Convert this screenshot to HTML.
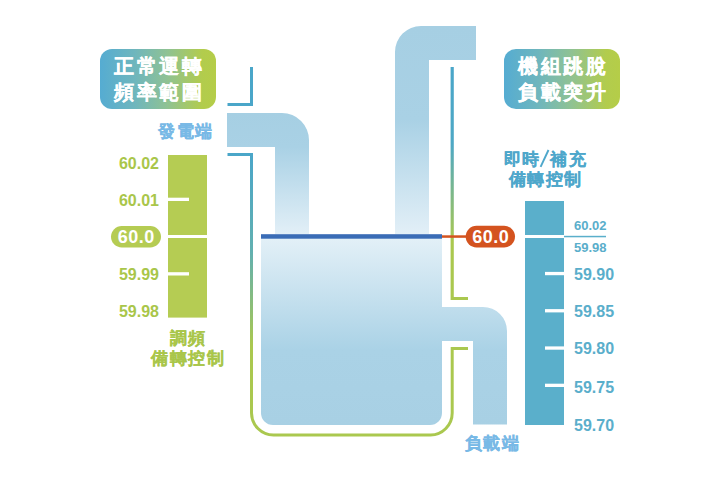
<!DOCTYPE html>
<html><head><meta charset="utf-8">
<style>
html,body{margin:0;padding:0;background:#fff;width:720px;height:480px;overflow:hidden;}
body{position:relative;font-family:"Liberation Sans",sans-serif;font-weight:bold;}
.a{position:absolute;white-space:nowrap;}
.box{position:absolute;width:116px;height:60px;border-radius:12px;background:linear-gradient(90deg,#55acd2 0%,#6fb6bd 30%,#8fc293 58%,#b2cc4d 88%,#b5cd48 100%);color:#fff;font-size:19.5px;line-height:25.5px;letter-spacing:2.5px;text-align:center;}
.box div{padding-top:5px;padding-left:2.5px;-webkit-text-stroke:0.25px #fff;}
.gl{color:#a9c64a;font-size:16px;line-height:16px;}
.bl{color:#5aaecb;font-size:16px;line-height:16px;}
.cj{font-size:16.5px;line-height:19.5px;letter-spacing:1.5px;text-align:center;-webkit-text-stroke:0.2px currentColor;}
.cc{padding-left:1.5px;}
</style></head><body>
<svg width="720" height="480" style="position:absolute;left:0;top:0">
<defs>
<linearGradient id="pipeL" x1="0" y1="113" x2="0" y2="234" gradientUnits="userSpaceOnUse">
<stop offset="0" stop-color="#a6cfe3"/><stop offset="0.28" stop-color="#a9d1e5"/><stop offset="1" stop-color="#e2eff7"/></linearGradient>
<linearGradient id="pipeR" x1="0" y1="26" x2="0" y2="234" gradientUnits="userSpaceOnUse">
<stop offset="0" stop-color="#a6cfe3"/><stop offset="0.45" stop-color="#a9d1e5"/><stop offset="1" stop-color="#e2eff7"/></linearGradient>
<linearGradient id="tank" x1="0" y1="238" x2="0" y2="425" gradientUnits="userSpaceOnUse">
<stop offset="0" stop-color="#e3f0f7"/><stop offset="0.6" stop-color="#aad2e6"/><stop offset="1" stop-color="#a8d0e4"/></linearGradient>
<linearGradient id="brL" x1="0" y1="153" x2="0" y2="436" gradientUnits="userSpaceOnUse">
<stop offset="0" stop-color="#4aa6c9"/><stop offset="0.35" stop-color="#62b0b0"/><stop offset="0.68" stop-color="#aac84f"/><stop offset="1" stop-color="#aac84f"/></linearGradient>
<linearGradient id="brR" x1="0" y1="67" x2="0" y2="300" gradientUnits="userSpaceOnUse">
<stop offset="0" stop-color="#4aa6c9"/><stop offset="0.33" stop-color="#4ea8c5"/><stop offset="0.75" stop-color="#aac84f"/><stop offset="1" stop-color="#aac84f"/></linearGradient>
</defs>
<!-- left pipe -->
<path d="M227 113 H282 A27 27 0 0 1 309 140 V234 H275 V147 H227 Z" fill="url(#pipeL)"/>
<!-- right pipe -->
<path d="M476 26 V60 H429 V234 H395 V52 A26 26 0 0 1 421 26 Z" fill="url(#pipeR)"/>
<!-- tank -->
<path d="M261 238 H442 V413 A12 12 0 0 1 430 425 H273 A12 12 0 0 1 261 413 Z" fill="url(#tank)"/>
<!-- outlet pipe -->
<path d="M441 307 H483 A24 24 0 0 1 507 331 V424.5 H473 V341 H441 Z" fill="url(#tank)"/>
<!-- blue water line -->
<rect x="261" y="234.2" width="181" height="4.5" fill="#3a6cb6"/>
<!-- left upper bracket -->
<path d="M227.5 104.5 H251.5 V67" fill="none" stroke="#4aa6c9" stroke-width="3"/>
<!-- left lower bracket -->
<path d="M227.5 154.5 H251.5 V413 A22 22 0 0 0 273.5 435 H430.5 A22 22 0 0 0 452.2 413 V348.5 H468" fill="none" stroke="url(#brL)" stroke-width="3"/>
<!-- right upper bracket -->
<path d="M452.2 67 V298.5 H468" fill="none" stroke="url(#brR)" stroke-width="3.2"/>
<!-- left gauge -->
<rect x="168" y="155" width="39" height="162.6" fill="#b5cc53"/>
<rect x="168" y="235" width="39" height="3" fill="#fff"/>
<rect x="168" y="197.7" width="21" height="3.3" fill="#fff"/>
<rect x="168" y="272.2" width="21" height="3.3" fill="#fff"/>
<rect x="111" y="226" width="50" height="21.5" rx="10.75" fill="#b5cc53"/>
<!-- right gauge -->
<rect x="525" y="201" width="39" height="224" fill="#5aafcb"/>
<rect x="525" y="235" width="39" height="3" fill="#fff"/>
<rect x="564" y="235.8" width="42" height="1.5" fill="#5aafcb"/>
<rect x="545" y="271.9" width="19" height="3.3" fill="#fff"/>
<rect x="545" y="309.1" width="19" height="3.3" fill="#fff"/>
<rect x="545" y="346.4" width="19" height="3.3" fill="#fff"/>
<rect x="545" y="383.7" width="19" height="3.3" fill="#fff"/>
<!-- orange connector -->
<rect x="442" y="235.3" width="25" height="2.5" fill="#d4531f"/>
<rect x="465.7" y="225.8" width="49.3" height="21.6" rx="10.8" fill="#d4531f"/>
<line x1="540.6" y1="166.8" x2="548.5" y2="150" stroke="#4ea7cb" stroke-width="1.9"/>
</svg>

<div class="box" style="left:100px;top:49px"><div>正常運轉<br>頻率範圍</div></div>
<div class="box" style="left:504px;top:49px"><div>機組跳脫<br>負載突升</div></div>

<div class="a cj" style="left:158px;top:122px;color:#78b9e6;width:70px;text-align:left">發電端</div>
<div class="a cj" style="left:464.5px;top:434px;color:#78b9e6;text-align:left">負載端</div>
<div class="a cj cc" style="left:494px;top:150px;color:#4ea7cb;width:100px">即時<span style="display:inline-block;width:9.5px"></span>補充<br>備轉控制</div>
<div class="a cj cc" style="left:136.7px;top:329px;color:#a9c64a;width:100px">調頻<br>備轉控制</div>

<div class="a gl" style="right:561px;top:156px">60.02</div>
<div class="a gl" style="right:561px;top:193px">60.01</div>
<div class="a gl" style="right:561px;top:267px">59.99</div>
<div class="a gl" style="right:561px;top:304px">59.98</div>
<div class="a" style="left:111px;top:226px;width:50px;text-align:center;color:#fff;font-size:18px;line-height:22.5px;letter-spacing:0.5px;text-indent:0.5px">60.0</div>
<div class="a" style="left:466px;top:226px;width:49px;text-align:center;color:#fff;font-size:18px;line-height:22.5px;letter-spacing:0.5px;text-indent:0.5px">60.0</div>

<div class="a bl" style="left:574px;top:219px;font-size:13px;line-height:13px">60.02</div>
<div class="a bl" style="left:574px;top:241px;font-size:13px;line-height:13px">59.98</div>
<div class="a bl" style="left:574px;top:267px">59.90</div>
<div class="a bl" style="left:574px;top:304px">59.85</div>
<div class="a bl" style="left:574px;top:341px">59.80</div>
<div class="a bl" style="left:574px;top:380px">59.75</div>
<div class="a bl" style="left:574px;top:417.5px">59.70</div>
</body></html>
